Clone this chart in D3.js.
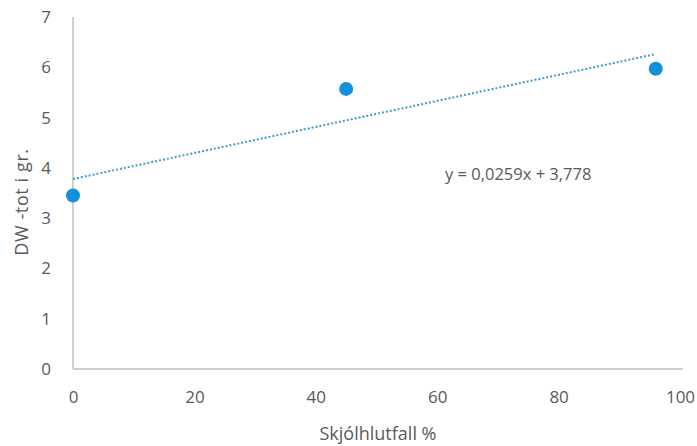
<!DOCTYPE html>
<html><head><meta charset="utf-8">
<script src="https://cdn.jsdelivr.net/npm/d3@7"></script>
<style>body{margin:0;background:#fff}svg{display:block}text{font-family:"Open Sans",sans-serif;fill:#595959}</style>
</head><body><svg id="c" width="697" height="446"></svg>
<script>
const xValues = [0, 45, 96];
const yValues = [3.45, 5.57, 5.97];
const xTicks = [0, 20, 40, 60, 80, 100];
const yTicks = [0, 1, 2, 3, 4, 5, 6, 7];
const trendSlope = 0.0259, trendIntercept = 3.778;
const trendLabel = "y = 0,0259x + 3,778";
const xTitle = "Skjólhlutfall %";
const yTitle = "DW -tot i gr.";

const svg = d3.select("#c");
const x = d3.scaleLinear().domain([0, 100]).range([73, 680]);
const y = d3.scaleLinear().domain([0, 7]).range([369, 17]);

// axes
const xa = svg.append("g").attr("transform", "translate(0,369)")
  .call(d3.axisBottom(x).tickValues(xTicks).tickFormat(d3.format("d")).tickSize(0).tickPadding(22));
const ya = svg.append("g").attr("transform", "translate(73,0)")
  .call(d3.axisLeft(y).tickValues(yTicks).tickFormat(d3.format("d")).tickSize(0).tickPadding(22));
[xa, ya].forEach(a => {
  a.select(".domain").attr("stroke", "#bfbfbf").attr("stroke-width", 1.5);
  a.selectAll("text").style("font-size", "17px").attr("fill", "#6a6a6a");
});
xa.select(".domain").attr("d", "M73,0H683");
ya.select(".domain").attr("d", "M0,17V369");

// trend line
const tx = [0, d3.max(xValues)];
svg.append("line")
  .attr("x1", x(tx[0])).attr("y1", y(trendSlope * tx[0] + trendIntercept))
  .attr("x2", x(tx[1])).attr("y2", y(trendSlope * tx[1] + trendIntercept))
  .attr("stroke", "#3c9ad6").attr("stroke-width", 2).attr("stroke-dasharray", "2,2");

// points
svg.selectAll("circle").data(xValues).join("circle")
  .attr("cx", d => x(d)).attr("cy", (d, i) => y(yValues[i])).attr("r", 7)
  .attr("fill", "#1490d8");

svg.append("text").attr("x", 445).attr("y", 180).style("font-size", "16.5px").text(trendLabel);
svg.append("text").attr("x", 378).attr("y", 440).attr("text-anchor", "middle").style("font-size", "18px").text(xTitle);
svg.append("text").attr("transform", "translate(28,202) rotate(-90)").attr("text-anchor", "middle").style("font-size", "18px").attr("letter-spacing", "0.6").text(yTitle);
</script></body></html>
